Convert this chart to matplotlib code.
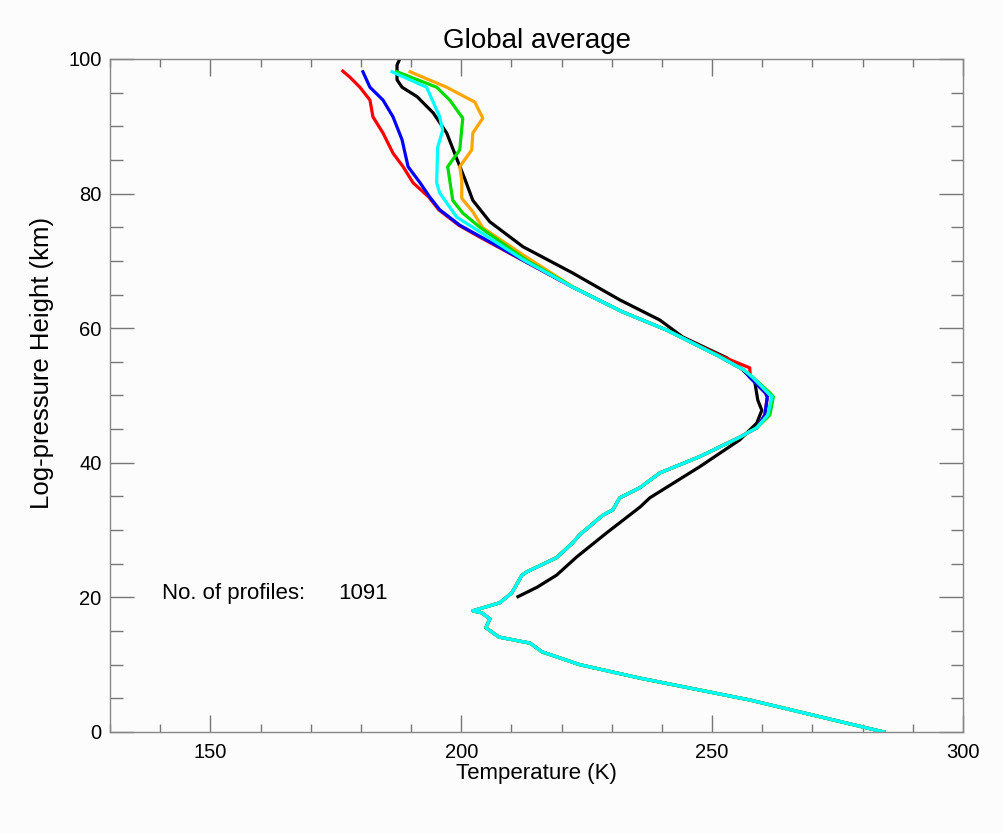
import matplotlib.pyplot as plt
from matplotlib.ticker import MultipleLocator

plt.rcParams['font.family'] = ['Liberation Sans', 'DejaVu Sans']

# common lower part of all coloured profiles (height km, temperature K)
z_low = [0, 4.75, 8.0, 10.0, 11.9, 13.2, 14.1, 15.5, 16.8, 17.7, 18.0, 19.2, 20.7,
         23.3, 23.8, 25.9, 28.1, 29.3, 32.2, 33.0, 34.8, 36.3, 38.5, 40.9, 43.8, 45.2]
t_low = [284.2, 257.5, 235.6, 223.6, 216.1, 213.7, 207.5, 204.9, 205.7, 204.1, 202.3, 207.7, 210.1,
         212.1, 213.1, 219.0, 222.2, 223.6, 228.2, 230.2, 231.6, 235.6, 239.6, 247.5, 255.5, 258.9]

# upper parts, one per colour
z_red = [47.1, 49.8, 50.4, 52.7, 54.1, 56.0, 59.7, 62.4, 66.1, 70.1, 73.4, 75.3, 77.6, 79.5,
         81.6, 84.0, 86.0, 89.0, 91.4, 93.9, 95.8, 97.3, 98.2]
t_red = [260.5, 261.0, 260.6, 257.6, 257.5, 251.3, 241.0, 232.2, 222.2, 212.2, 204.0, 199.5, 195.5, 193.5,
         190.4, 188.4, 186.4, 184.4, 182.4, 181.8, 179.8, 177.8, 176.4]

z_blue = [47.1, 49.8, 50.4, 52.7, 53.8, 56.0, 59.7, 62.4, 66.1, 70.1, 73.4, 75.3, 77.6, 79.5,
          81.6, 84.0, 88.0, 91.4, 93.9, 95.8, 98.1]
t_blue = [260.5, 261.0, 260.6, 257.5, 256.3, 250.9, 241.0, 232.2, 222.2, 212.3, 204.3, 199.7, 195.7, 193.7,
          191.8, 189.4, 188.2, 186.4, 184.4, 181.8, 180.4]

z_orange = [47.1, 49.8, 50.4, 52.7, 53.8, 56.0, 59.7, 62.4, 66.1, 70.9, 74.9, 77.3, 79.3, 82.0,
            84.0, 86.5, 89.0, 91.2, 93.6, 95.8, 98.1]
t_orange = [261.1, 261.9, 261.1, 258.1, 256.3, 250.9, 241.0, 232.2, 222.3, 212.3, 204.3, 202.3, 200.1, 200.1,
            199.7, 202.1, 202.3, 204.3, 202.7, 197.1, 189.8]

z_green = [47.1, 49.8, 50.4, 52.7, 53.8, 56.0, 59.7, 62.4, 66.1, 70.1, 75.0, 77.1, 79.0, 82.0,
           84.0, 86.5, 91.2, 93.9, 95.8, 98.1]
t_green = [261.5, 262.2, 261.5, 258.1, 256.3, 250.9, 241.0, 232.2, 222.3, 213.0, 203.7, 200.3, 198.3, 197.7,
           197.3, 199.7, 200.3, 197.7, 195.1, 187.2]

z_cyan = [47.1, 49.8, 50.4, 52.7, 53.8, 56.0, 59.7, 62.4, 66.1, 70.1, 73.8, 76.5, 80.1, 81.6,
          86.9, 89.4, 91.4, 95.8, 98.1]
t_cyan = [261.1, 261.9, 261.1, 258.1, 256.3, 250.9, 241.0, 232.2, 222.2, 212.5, 204.8, 199.1, 195.7, 195.1,
          195.3, 196.3, 195.7, 193.1, 186.2]

# black profile (starts at 20 km)
z_black = [20.1, 21.5, 23.3, 26.0, 29.6, 33.4, 34.8, 39.4, 43.4, 45.9, 47.8, 49.3, 52.0, 53.8,
           55.6, 58.7, 61.2, 64.2, 68.2, 72.1, 75.8, 79.0, 82.0, 85.0, 89.0, 92.0,
           94.4, 95.8, 96.9, 99.1, 100.1]
t_black = [211.3, 215.1, 219.0, 223.0, 229.0, 235.6, 237.6, 247.5, 255.5, 258.9, 259.9, 259.1, 258.5, 256.1,
           252.9, 244.1, 239.6, 231.6, 222.2, 212.3, 205.7, 202.3, 200.8, 199.2, 197.1, 194.4,
           191.2, 188.2, 187.2, 187.2, 187.8]

n_profiles = 1091

bg = '#fcfcfc'
fig = plt.figure(figsize=(10.02, 8.33), dpi=100, facecolor=bg)
ax = fig.add_axes([0.1098, 0.1213, 0.8513, 0.8079], facecolor=bg)

lw = 2.3
ax.plot(t_black, z_black, color='black', lw=lw)
for zs, ts, c in [(z_red, t_red, 'red'), (z_blue, t_blue, 'blue'),
                  (z_orange, t_orange, 'orange'), (z_green, t_green, '#00dd00'),
                  (z_cyan, t_cyan, 'cyan')]:
    ax.plot(t_low + ts, z_low + zs, color=c, lw=lw)

ax.set_xlim(130, 300)
ax.set_ylim(0, 100)
ax.xaxis.set_major_locator(MultipleLocator(50))
ax.xaxis.set_minor_locator(MultipleLocator(10))
ax.yaxis.set_major_locator(MultipleLocator(20))
ax.yaxis.set_minor_locator(MultipleLocator(5))
ax.set_xticks([150, 200, 250, 300])
ax.tick_params(which='both', direction='in', top=True, right=True, color='#777777',
               labelsize=14.5, width=1)
ax.tick_params(axis='x', which='major', length=12, pad=8)
ax.tick_params(axis='x', which='minor', length=6)
ax.tick_params(axis='y', which='major', length=17, pad=6)
ax.tick_params(axis='y', which='minor', length=9)
for s in ax.spines.values():
    s.set_color('#888888')
    s.set_linewidth(1)

ax.set_title('Global average', fontsize=20, pad=8)
ax.set_xlabel('Temperature (K)', fontsize=16, labelpad=1)
ax.set_ylabel('Log-pressure Height (km)', fontsize=18.5, labelpad=6)
ax.yaxis.set_label_coords(-0.066, 0.548)

ax.text(140.4, 20.5, 'No. of profiles:', fontsize=16, va='center')
ax.text(175.4, 20.5, str(n_profiles), fontsize=16, va='center')

fig.savefig('out.png', dpi=100, facecolor=bg)
